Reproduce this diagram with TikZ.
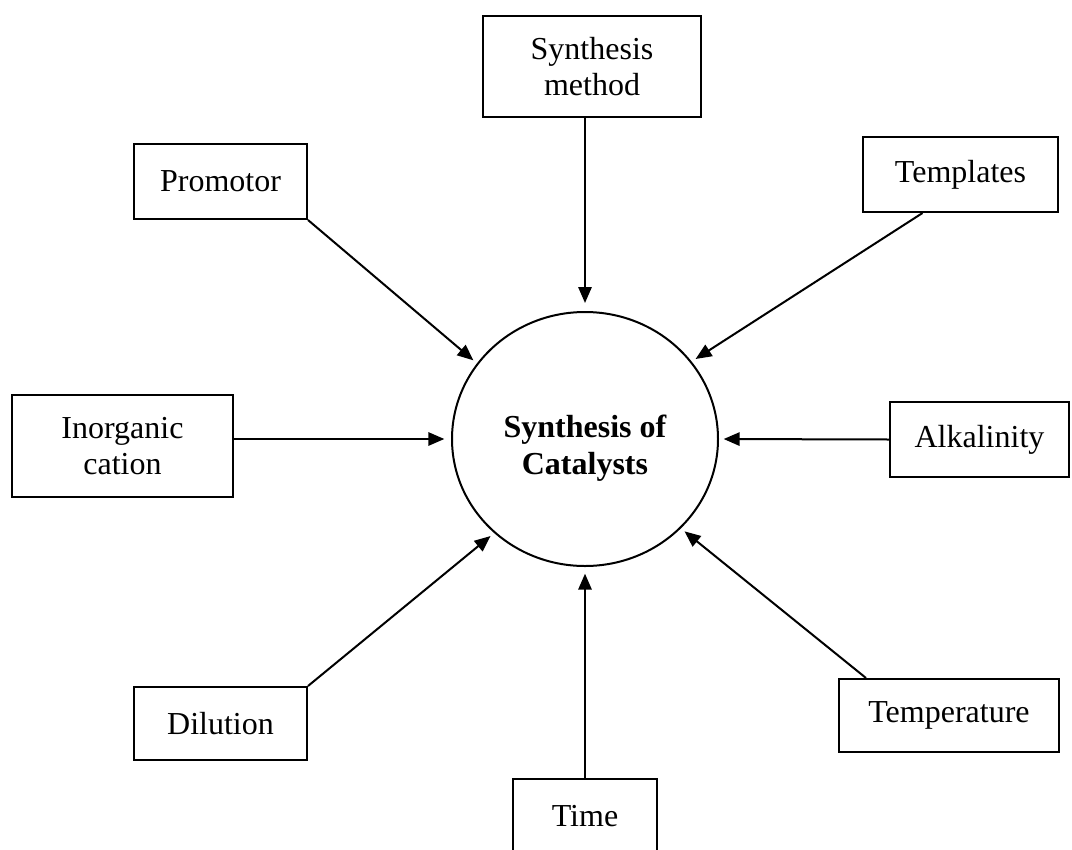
\documentclass[tikz,border=0pt]{standalone}
\usepackage{fontspec}
\setmainfont{Liberation Serif}
\usetikzlibrary{arrows.meta,shapes.geometric,calc}
\begin{document}
\begin{tikzpicture}[x=0.75pt,y=-0.75pt,
  box/.style={draw, line width=1.5pt, inner sep=0pt, align=center, font=\fontsize{24}{27.5}\selectfont},
  hub/.style={draw, ellipse, line width=1.5pt, minimum width=199.5pt, minimum height=190.5pt, inner sep=0pt},
  link/.style={line width=1.5pt, -{Triangle[length=12pt,width=10pt]}, shorten >=3.5pt}]
\useasboundingbox (0,0) rectangle (1072,850);
\clip (0,0) rectangle (1072,850);
\fill[white] (0,0) rectangle (1072,850);

\node[hub, label={[font=\bfseries\fontsize{24}{28}\selectfont, align=center, yshift=-7pt]center:Synthesis of\\Catalysts}] (c) at (585,439) {};

\node[box, minimum width=163.5pt, minimum height=75.75pt] (method) at (592,66.5) {Synthesis\\method};
\node[box, minimum width=129.75pt, minimum height=56.25pt] (promotor) at (220.5,181.5) {Promotor};
\node[box, minimum width=146.25pt, minimum height=56.25pt] (templates) at (960.5,174.5) {Templates};
\node[box, minimum width=165.75pt, minimum height=76.5pt] (cation) at (122.5,446) {Inorganic\\cation};
\node[box, minimum width=134.25pt, minimum height=56.25pt] (alkalinity) at (979.5,439.5) {Alkalinity};
\node[box, minimum width=129.75pt, minimum height=54.75pt] (dilution) at (220.5,723.5) {Dilution};
\node[box, minimum width=165pt, minimum height=54.75pt] (temperature) at (949,715.5) {Temperature};
\node[box, minimum width=108pt, minimum height=55.5pt] (time) at (585,816) {Time};

\draw[link, shorten >=6pt] (method.south -| c.north) -- (c.north);
\draw[link] (promotor.south east) -- (c.145);
\draw[link] ([xshift=-28.5pt]templates.south) -- (c.36);
\draw[link, shorten >=5pt] (cation.east |- c.west) -- (c.west);
\draw[link] (alkalinity.west) -- (c.east);
\draw[link] (dilution.north east) -- (c.-134);
\draw[link] ([xshift=21pt]temperature.north west) -- (c.-43);
\draw[link, shorten >=5pt] (time.north) -- (c.south);
\end{tikzpicture}
\end{document}
